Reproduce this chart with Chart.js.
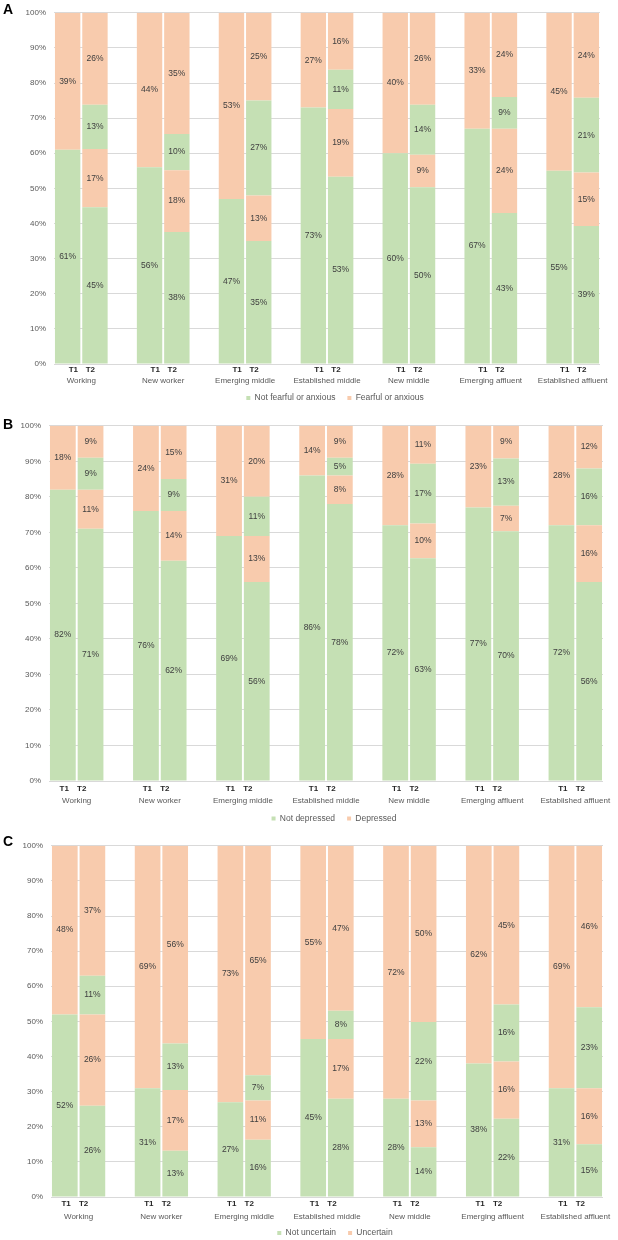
<!DOCTYPE html>
<html>
<head>
<meta charset="utf-8">
<script src="https://cdn.jsdelivr.net/npm/chart.js@4.4.1/dist/chart.umd.min.js"></script>
<style>
  html, body { margin: 0; padding: 0; background: #fff; overflow: hidden; }
  body { width: 618px; height: 1240px; position: relative; font-family: "Liberation Sans", Arial, sans-serif; }
  .panel { position: absolute; left: 0; width: 618px; }
  .letter { position: absolute; left: 3px; font-weight: bold; font-size: 14px; line-height: 14px; color: #000; }
</style>
</head>
<body>
<div class="panel" id="wrapA"><canvas id="chartA"></canvas></div>
<div class="panel" id="wrapB"><canvas id="chartB"></canvas></div>
<div class="panel" id="wrapC"><canvas id="chartC"></canvas></div>
<div class="letter" style="top:2px">A</div>
<div class="letter" style="top:417px">B</div>
<div class="letter" style="top:834px">C</div>
<script>
// Data (percent), groups in order. T2 values are estimated past the rounded
// labels where the printed numbers don't add to 100.
const groups = ['Working', 'New worker', 'Emerging middle', 'Established middle', 'New middle', 'Emerging affluent', 'Established affluent'];
const yTicks = [0, 10, 20, 30, 40, 50, 60, 70, 80, 90, 100];

// A - fear / anxiety
const aLabels = ['Not fearful or anxious', 'Fearful or anxious'];
const aT1Not = [61, 56, 47, 73, 60, 67, 55];
const aT1Yes = [39, 44, 53, 27, 40, 33, 45];
const aT2NotBoth = [44.6, 37.6, 35, 53.3, 50.3, 43, 39.3];
const aT2Became = [16.6, 17.6, 13, 19.3, 9.3, 24, 15.2];
const aT2Recovered = [12.6, 10.3, 27, 11.2, 14.2, 9, 21.3];
const aT2YesBoth = [26.2, 34.5, 25, 16.2, 26.2, 24, 24.2];

// B - depression
const bLabels = ['Not depressed', 'Depressed'];
const bT1Not = [82, 76, 69, 86, 72, 77, 72];
const bT1Yes = [18, 24, 31, 14, 28, 23, 28];
const bT2NotBoth = [71, 62, 56, 78, 62.7, 70.3, 56];
const bT2Became = [11, 14, 13, 8, 9.8, 7.2, 16];
const bT2Recovered = [9, 9, 11, 5, 16.8, 13.3, 16];
const bT2YesBoth = [9, 15, 20, 9, 10.7, 9.2, 12];

// C - uncertainty
const cLabels = ['Not uncertain', 'Uncertain'];
const cT1Not = [52, 31, 27, 45, 28, 38, 31];
const cT1Yes = [48, 69, 73, 55, 72, 62, 69];
const cT2NotBoth = [26, 13.2, 16.3, 28, 14.2, 22.3, 15];
const cT2Became = [26, 17.3, 11.2, 17, 13.3, 16.3, 16];
const cT2Recovered = [11, 13.2, 7.2, 8, 22.3, 16.2, 23];
const cT2YesBoth = [37, 56.3, 65.3, 47, 50.2, 45.2, 46];

const GREEN = '#C5E0B4';
const ORANGE = '#F8CBAD';
const FONT = '"Liberation Sans", Arial, sans-serif';

// 20 slots: T1, T2, blank, T1, T2, blank ...
const slots = [];
groups.forEach((g, i) => {
  slots.push('T1', 'T2');
  if (i < groups.length - 1) slots.push('');
});

function spread(t1, t2) {
  const out = [];
  groups.forEach((g, i) => {
    out.push(t1 ? t1[i] : null, t2 ? t2[i] : null);
    if (i < groups.length - 1) out.push(null);
  });
  return out;
}

// percent labels in the middle of each segment
const valueLabels = {
  id: 'valueLabels',
  afterDatasetsDraw(chart) {
    const ctx = chart.ctx;
    ctx.save();
    ctx.font = '8.5px ' + FONT;
    ctx.fillStyle = '#404040';
    ctx.textAlign = 'center';
    ctx.textBaseline = 'middle';
    chart.data.datasets.forEach((ds, i) => {
      chart.getDatasetMeta(i).data.forEach((bar, j) => {
        const v = ds.data[j];
        if (v == null) return;
        const top = Math.max(bar.y, chart.chartArea.top);
        ctx.fillText(Math.round(v) + '%', bar.x, (top + bar.base) / 2);
      });
    });
    ctx.restore();
  }
};

// T1 / T2 and group names under each pair of bars
const groupLabels = {
  id: 'groupLabels',
  afterLayout(chart, args, opts) {
    // nudge legend a bit to the right, as in the original
    chart.legend.left += opts.legendShift;
    chart.legend.right += opts.legendShift;
  },
  afterDraw(chart, args, opts) {
    const ctx = chart.ctx;
    const x = chart.scales.x;
    const bottom = chart.chartArea.bottom;
    ctx.save();
    ctx.textAlign = 'center';
    ctx.textBaseline = 'middle';
    groups.forEach((g, i) => {
      const mid = (x.getPixelForValue(i * 3) + x.getPixelForValue(i * 3 + 1)) / 2;
      ctx.font = 'bold 8px ' + FONT;
      ctx.fillStyle = '#262626';
      ctx.fillText('T1', mid + opts.t1, bottom + opts.tickY);
      ctx.fillText('T2', mid + opts.t2, bottom + opts.tickY);
      ctx.font = '8px ' + FONT;
      ctx.fillStyle = '#595959';
      ctx.fillText(g, mid, bottom + opts.groupY);
    });
    ctx.restore();
  }
};

const LEGEND_PAD = 12;
const LEGEND_FONT = 8.5;

function makePanel(id, wrapId, p, labels, t1Not, t1Yes, t2NotBoth, t2Became, t2Recovered, t2YesBoth) {
  const legendTop = p.legendY - LEGEND_PAD - LEGEND_FONT / 2;
  const legendBottom = legendTop + LEGEND_FONT + LEGEND_PAD + 10;
  const height = Math.ceil(legendBottom - p.top);
  const wrap = document.getElementById(wrapId);
  wrap.style.top = p.top + 'px';
  wrap.style.height = height + 'px';
  const canvas = document.getElementById(id);
  canvas.width = 618;
  canvas.height = height;

  new Chart(canvas.getContext('2d'), {
    type: 'bar',
    data: {
      labels: slots,
      datasets: [
        { label: labels[0], data: spread(t1Not, t2NotBoth), backgroundColor: GREEN },
        { label: labels[1], data: spread(t1Yes, t2Became), backgroundColor: ORANGE },
        { label: labels[0], data: spread(null, t2Recovered), backgroundColor: GREEN },
        { label: labels[1], data: spread(null, t2YesBoth), backgroundColor: ORANGE }
      ]
    },
    options: {
      responsive: false,
      animation: false,
      categoryPercentage: 0.93,
      barPercentage: 1,
      layout: {
        padding: {
          top: p.plotTop - p.top,
          left: 0,
          right: 618 - p.right,
          bottom: height - (legendBottom - p.top)
        }
      },
      plugins: {
        legend: {
          position: 'bottom',
          fullSize: false,
          labels: {
            boxWidth: 4,
            boxHeight: 4,
            padding: LEGEND_PAD,
            color: '#595959',
            font: { family: FONT, size: LEGEND_FONT },
            filter: item => item.datasetIndex < 2
          }
        },
        tooltip: { enabled: false },
        groupLabels: { t1: p.t1, t2: p.t2, tickY: p.tickY, groupY: p.groupY, legendShift: 8 }
      },
      scales: {
        x: {
          stacked: true,
          grid: { display: false },
          border: { display: false },
          ticks: { display: false },
          afterFit: s => { s.height = legendTop - p.plotBottom; }
        },
        y: {
          stacked: true,
          min: 0,
          max: 100,
          afterBuildTicks: s => { s.ticks = yTicks.map(v => ({ value: v })); },
          ticks: {
            padding: 8,
            color: '#595959',
            font: { family: FONT, size: 8 },
            callback: v => v + '%'
          },
          grid: { color: '#D9D9D9', drawTicks: false },
          border: { display: false },
          afterFit: s => { s.width = p.left; }
        }
      }
    },
    plugins: [valueLabels, groupLabels]
  });
}

makePanel('chartA', 'wrapA',
  { top: 0, plotTop: 10, plotBottom: 364, left: 54, right: 600, legendY: 398, tickY: 6, groupY: 17, t1: -8, t2: 9 },
  aLabels, aT1Not, aT1Yes, aT2NotBoth, aT2Became, aT2Recovered, aT2YesBoth);

makePanel('chartB', 'wrapB',
  { top: 413, plotTop: 425, plotBottom: 781, left: 49, right: 603, legendY: 818.5, tickY: 8, groupY: 20, t1: -12.5, t2: 5 },
  bLabels, bT1Not, bT1Yes, bT2NotBoth, bT2Became, bT2Recovered, bT2YesBoth);

makePanel('chartC', 'wrapC',
  { top: 833, plotTop: 845, plotBottom: 1197, left: 51, right: 603, legendY: 1233, tickY: 7, groupY: 20, t1: -12.5, t2: 5 },
  cLabels, cT1Not, cT1Yes, cT2NotBoth, cT2Became, cT2Recovered, cT2YesBoth);
</script>
</body>
</html>
